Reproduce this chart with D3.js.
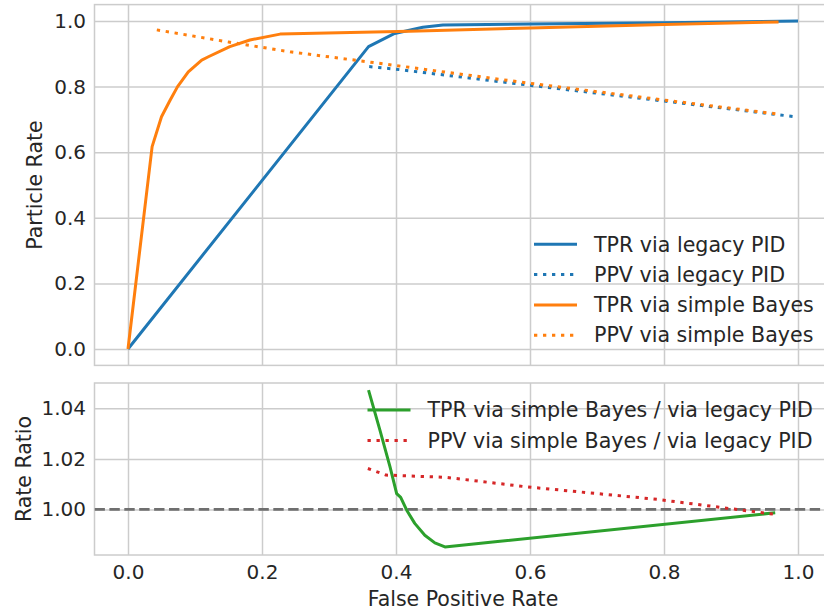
<!DOCTYPE html>
<html>
<head>
<meta charset="utf-8">
<script src="https://cdn.jsdelivr.net/npm/d3@7"></script>
<style>
  body { margin: 0; background: #fff; }
  svg text { font-family: "DejaVu Sans", sans-serif; fill: #262626; }
</style>
</head>
<body>
<div class="rocChart"></div>
<script>
// ROC-like curves
const fprTprLegacy = [0, 0.359, 0.398, 0.44, 0.47, 0.6, 0.8, 1.0]
const tprLegacy = [0, 0.922, 0.962, 0.981, 0.988, 0.991, 0.995, 1.0]

const fprPpvLegacy = [0.36, 0.4, 0.6, 0.8, 1.0]
const ppvLegacy = [0.861, 0.853, 0.804, 0.756, 0.707]

const fprTprBayes = [0, 0.036, 0.05, 0.063, 0.074, 0.09, 0.11, 0.12, 0.152, 0.182, 0.227, 0.42, 0.6, 0.8, 0.971]
const tprBayes = [0, 0.617, 0.708, 0.759, 0.8, 0.845, 0.881, 0.891, 0.922, 0.942, 0.96, 0.969, 0.979, 0.989, 0.997]

const fprPpvBayes = [0.043, 0.15, 0.242, 0.36, 0.6, 0.8, 0.971]
const ppvBayes = [0.973, 0.936, 0.906, 0.875, 0.81, 0.759, 0.716]

const fprTprRatio = [0.359, 0.376, 0.391, 0.401, 0.407, 0.416, 0.428, 0.443, 0.458, 0.473, 0.548, 0.966]
const tprRatio = [1.0472, 1.0314, 1.0169, 1.0063, 1.0048, 0.9997, 0.9945, 0.9898, 0.9868, 0.9852, 0.9872, 0.9987]

const fprPpvRatio = [0.358, 0.385, 0.475, 0.593, 0.79, 0.968]
const ppvRatio = [1.0162, 1.0136, 1.0127, 1.009, 1.004, 0.998]

const xTicks = [0, 0.2, 0.4, 0.6, 0.8, 1.0]
const yTicksTop = [0, 0.2, 0.4, 0.6, 0.8, 1.0]
const yTicksBottom = [1.0, 1.02, 1.04]

const width = 824, height = 612
const tickFont = 20
const labelFont = 20.5
const left = 94.5, right = 831.5
const top1 = 4.6, bottom1 = 365.4
const top2 = 383, bottom2 = 555

const svg = d3.select(".rocChart").append("svg")
  .attr("width", width).attr("height", height)
  .attr("viewBox", `0 0 ${width} ${height}`)

const x = d3.scaleLinear().domain([-0.05, 1.05]).range([left, right])
const yTop = d3.scaleLinear().domain([-0.05, 1.05]).range([bottom1, top1])
const yBot = d3.scaleLinear().domain([0.982, 1.05]).range([bottom2, top2])

const zip = (xs, ys) => xs.map((v, i) => [v, ys[i]])

const defs = svg.append("defs")
defs.append("clipPath").attr("id", "clipTop").append("rect")
  .attr("x", left).attr("y", top1).attr("width", right - left).attr("height", bottom1 - top1)
defs.append("clipPath").attr("id", "clipBot").append("rect")
  .attr("x", left).attr("y", top2).attr("width", right - left).attr("height", bottom2 - top2)

const styleAxis = g => {
  g.select(".domain").remove()
  g.selectAll(".tick line").attr("stroke", "#cccccc").attr("stroke-width", 1.5)
  g.selectAll(".tick text").attr("font-size", tickFont).attr("fill", "#262626")
    .attr("font-family", "DejaVu Sans, sans-serif")
}

const drawPanel = (yScale, yTicks, yFmt, top, bottom, showX) => {
  // vertical grid (and x labels on the lower panel)
  const gx = svg.append("g").attr("transform", `translate(0, ${bottom})`)
    .call(d3.axisBottom(x).tickValues(xTicks).tickSizeInner(-(bottom - top)).tickSizeOuter(0)
      .tickPadding(10).tickFormat(showX ? d3.format(".1f") : () => ""))
  styleAxis(gx)

  const gy = svg.append("g").attr("transform", `translate(${left}, 0)`)
    .call(d3.axisLeft(yScale).tickValues(yTicks).tickSizeInner(-(right - left)).tickSizeOuter(0)
      .tickPadding(8.5).tickFormat(yFmt))
  styleAxis(gy)

  svg.append("rect").attr("x", left).attr("y", top)
    .attr("width", right - left).attr("height", bottom - top)
    .attr("fill", "none").attr("stroke", "#cccccc").attr("stroke-width", 1.5)
}

drawPanel(yTop, yTicksTop, d3.format(".1f"), top1, bottom1, false)
drawPanel(yBot, yTicksBottom, d3.format(".2f"), top2, bottom2, true)

const lineTop = d3.line().x(d => x(d[0])).y(d => yTop(d[1]))
const lineBot = d3.line().x(d => x(d[0])).y(d => yBot(d[1]))

const dotted = "3.3,5.7"

const topSeries = [
  { label: "TPR via legacy PID", data: zip(fprTprLegacy, tprLegacy), color: "#1f77b4", dash: null },
  { label: "PPV via legacy PID", data: zip(fprPpvLegacy, ppvLegacy), color: "#1f77b4", dash: dotted },
  { label: "TPR via simple Bayes", data: zip(fprTprBayes, tprBayes), color: "#ff7f0e", dash: null },
  { label: "PPV via simple Bayes", data: zip(fprPpvBayes, ppvBayes), color: "#ff7f0e", dash: dotted }
]

const botSeries = [
  { label: "TPR via simple Bayes / via legacy PID", data: zip(fprTprRatio, tprRatio), color: "#2ca02c", dash: null },
  { label: "PPV via simple Bayes / via legacy PID", data: zip(fprPpvRatio, ppvRatio), color: "#d62728", dash: dotted }
]

const gTop = svg.append("g").attr("clip-path", "url(#clipTop)")
gTop.selectAll("path").data(topSeries).enter().append("path")
  .attr("d", d => lineTop(d.data))
  .attr("fill", "none")
  .attr("stroke", d => d.color)
  .attr("stroke-width", 3)
  .attr("stroke-dasharray", d => d.dash)
  .attr("stroke-linejoin", "round")

const gBot = svg.append("g").attr("clip-path", "url(#clipBot)")
gBot.append("line")
  .attr("x1", left).attr("x2", right)
  .attr("y1", yBot(1)).attr("y2", yBot(1))
  .attr("stroke", "#6f6f6f").attr("stroke-width", 2.8)
  .attr("stroke-dasharray", "10.4,4.5")

gBot.selectAll("path.ratio").data(botSeries).enter().append("path")
  .attr("class", "ratio")
  .attr("d", d => lineBot(d.data))
  .attr("fill", "none")
  .attr("stroke", d => d.color)
  .attr("stroke-width", 3)
  .attr("stroke-dasharray", d => d.dash)
  .attr("stroke-linejoin", "round")

// legends
const drawLegend = (series, lx, ly, step) => {
  const items = svg.append("g").selectAll("g").data(series).enter().append("g")
    .attr("transform", (d, i) => `translate(${lx}, ${ly + i * step})`)
  items.append("line")
    .attr("x1", 0).attr("x2", 43).attr("y1", 0).attr("y2", 0)
    .attr("stroke", d => d.color).attr("stroke-width", 3)
    .attr("stroke-dasharray", d => d.dash)
  items.append("text")
    .attr("x", 60).attr("dy", "0.35em")
    .attr("font-size", 20.6)
    .text(d => d.label)
}
drawLegend(topSeries, 534, 244.3, 30.3)
drawLegend(botSeries, 367.5, 410, 30.5)

// axis labels
svg.append("text")
  .attr("transform", `translate(35, ${(top1 + bottom1) / 2}) rotate(-90)`)
  .attr("text-anchor", "middle").attr("dy", "0.35em")
  .attr("font-size", labelFont).text("Particle Rate")

svg.append("text")
  .attr("transform", `translate(24, ${(top2 + bottom2) / 2}) rotate(-90)`)
  .attr("text-anchor", "middle").attr("dy", "0.35em")
  .attr("font-size", labelFont).text("Rate Ratio")

svg.append("text")
  .attr("x", (left + right) / 2).attr("y", 599).attr("dy", "0.35em")
  .attr("text-anchor", "middle")
  .attr("font-size", labelFont).text("False Positive Rate")
</script>
</body>
</html>
